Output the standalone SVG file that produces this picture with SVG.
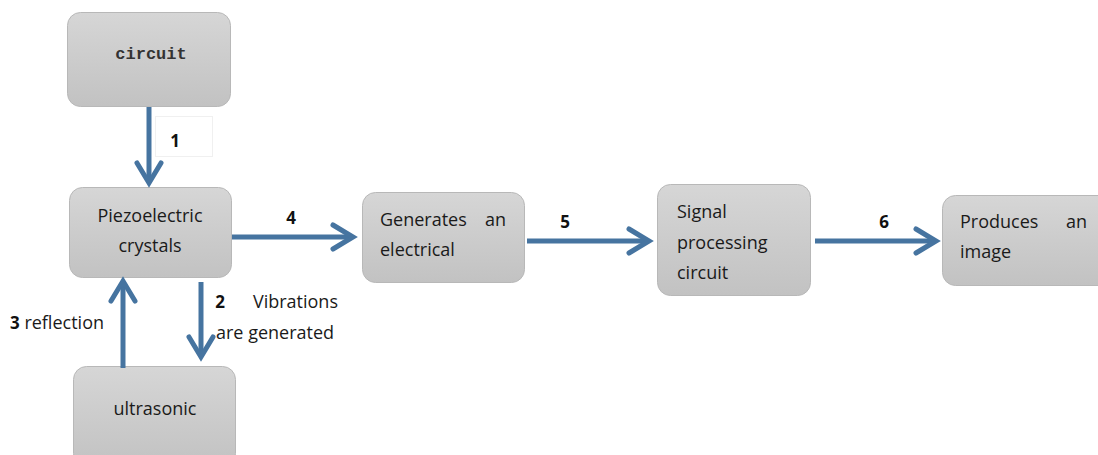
<svg xmlns="http://www.w3.org/2000/svg" width="1098" height="455" viewBox="0 0 1098 455">
<defs>
<linearGradient id="g" x1="0" y1="0" x2="0" y2="1">
<stop offset="0" stop-color="#d6d6d6"/>
<stop offset="1" stop-color="#c2c2c2"/>
</linearGradient>
<style>
.box{fill:url(#g);stroke:#b8b8b8;stroke-width:1}
.t{font-family:"Open Sans","Liberation Sans",sans-serif;font-size:18px;fill:#1a1a1a}
.n{font-family:"Open Sans","Liberation Sans",sans-serif;font-size:17px;font-weight:bold;fill:#111}
.mono{font-family:"Liberation Mono","DejaVu Sans Mono",monospace;font-size:17px;fill:#333;font-weight:bold}
.ln{stroke:#4674a0;stroke-width:5;fill:none}
.hd{stroke:#4674a0;stroke-width:5;fill:none;stroke-linecap:round;stroke-linejoin:miter}
</style>
</defs>
<rect width="1098" height="455" fill="#ffffff"/>

<g id="node-circuit">
<rect class="box" x="67.5" y="12.5" width="163" height="94" rx="13"/>
<text class="mono" x="151" y="59" text-anchor="middle">circuit</text>
</g>

<g id="node-piezo">
<rect class="box" x="69.5" y="187.5" width="162" height="90" rx="13"/>
<text class="t" x="150" y="222" text-anchor="middle">Piezoelectric</text>
<text class="t" x="150" y="252" text-anchor="middle">crystals</text>
</g>

<g id="node-ultrasonic">
<rect class="box" x="73.5" y="366.5" width="162" height="100" rx="13"/>
<text class="t" x="155" y="415" text-anchor="middle">ultrasonic</text>
</g>

<g id="node-generates">
<rect class="box" x="362.5" y="192.5" width="162" height="90" rx="13"/>
<text class="t" x="380" y="226">Generates</text>
<text class="t" x="506" y="226" text-anchor="end">an</text>
<text class="t" x="380" y="256">electrical</text>
</g>

<g id="node-signal">
<rect class="box" x="657.5" y="184.5" width="153" height="111" rx="13"/>
<text class="t" x="677" y="218">Signal</text>
<text class="t" x="677" y="249">processing</text>
<text class="t" x="677" y="279">circuit</text>
</g>

<g id="node-produces">
<rect class="box" x="942.5" y="195.5" width="170" height="90" rx="13"/>
<text class="t" x="960" y="228">Produces</text>
<text class="t" x="1087" y="228" text-anchor="end">an</text>
<text class="t" x="960" y="258">image</text>
</g>

<g id="connectors">
<!-- 1 -->
<line class="ln" x1="149" y1="107" x2="149" y2="183"/>
<polyline class="hd" points="137,163 149,183 161,163"/>
<!-- 4 -->
<line class="ln" x1="232" y1="237" x2="353" y2="237"/>
<polyline class="hd" points="333,225 353,237 333,249"/>
<!-- 5 -->
<line class="ln" x1="527" y1="241" x2="649" y2="241"/>
<polyline class="hd" points="629,229 649,241 629,253"/>
<!-- 6 -->
<line class="ln" x1="815" y1="241" x2="936" y2="241"/>
<polyline class="hd" points="916,229 936,241 916,253"/>
<!-- 2 -->
<line class="ln" x1="201" y1="282" x2="201" y2="357"/>
<polyline class="hd" points="189,337 201,357 213,337"/>
<!-- 3 -->
<line class="ln" x1="123" y1="368" x2="123" y2="281"/>
<polyline class="hd" points="111,301 123,281 135,301"/>
</g>

<g id="labels">
<rect x="155.5" y="116.5" width="57" height="40" fill="#ffffff" stroke="#f0f0f0" stroke-width="1"/>
<text class="n" x="175" y="147" text-anchor="middle">1</text>
<text class="n" x="291" y="224" text-anchor="middle">4</text>
<text class="n" x="565" y="228" text-anchor="middle">5</text>
<text class="n" x="884" y="228" text-anchor="middle">6</text>
<text class="n" x="220" y="308" text-anchor="middle">2</text>
<text class="t" x="338" y="308" text-anchor="end">Vibrations</text>
<text class="t" x="216" y="339">are generated</text>
<text x="10" y="329"><tspan class="n">3</tspan><tspan class="t"> reflection</tspan></text>
</g>
</svg>
